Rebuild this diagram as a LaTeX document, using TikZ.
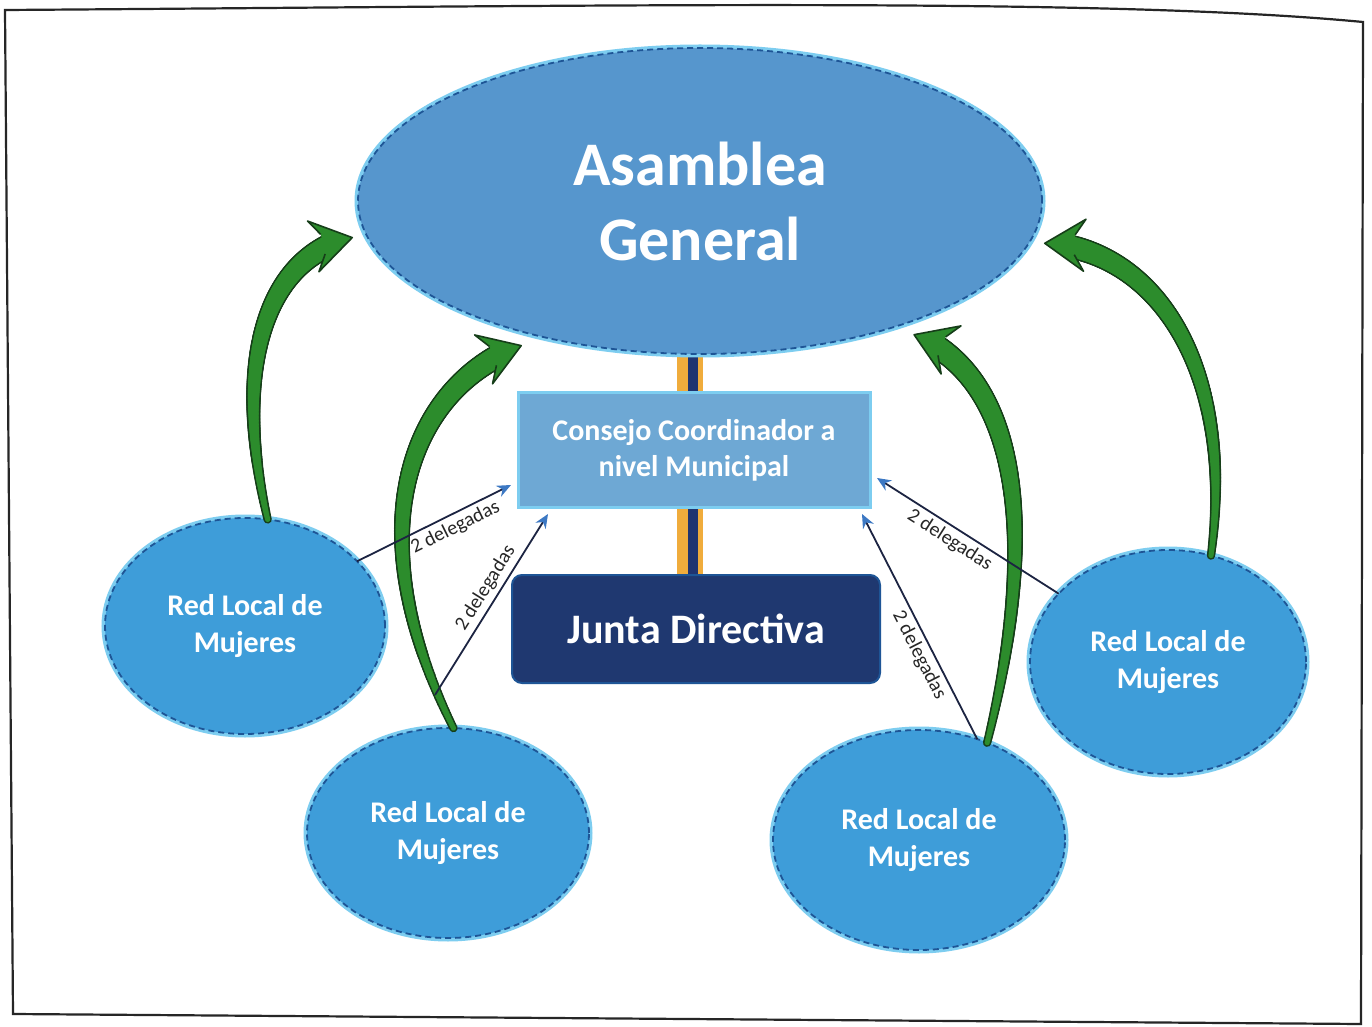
\documentclass[tikz,border=0pt]{standalone}
\usepackage{fontspec}
\setmainfont{Carlito}
\usetikzlibrary{shapes.geometric}
\usetikzlibrary{arrows.meta}
\usetikzlibrary{calc}
\usetikzlibrary{decorations.markings}
\usetikzlibrary{backgrounds}

\definecolor{asambleablue}{RGB}{86,150,205}
\definecolor{redblue}{RGB}{62,157,217}
\definecolor{consejoblue}{RGB}{110,168,212}
\definecolor{juntanavy}{RGB}{31,56,112}
\definecolor{rimcyan}{RGB}{125,205,240}
\definecolor{rimdark}{RGB}{30,85,150}
\definecolor{arrowgreen}{RGB}{44,140,44}
\definecolor{arrowdark}{RGB}{22,62,25}
\definecolor{delegline}{RGB}{28,36,66}
\definecolor{delegtip}{RGB}{60,120,195}
\definecolor{barorange}{RGB}{240,172,60}
\definecolor{barnavy}{RGB}{32,52,112}

\begin{document}
\begin{tikzpicture}[x=0.5pt,y=-0.5pt,
  oval/.style={ellipse, draw=rimdark, densely dashed, line width=0.9pt,
    preaction={draw=rimcyan, solid, line width=3.5pt},
    text=white, align=center, inner sep=0pt},
  bigoval/.style={oval, fill=asambleablue, minimum width=342pt, minimum height=153pt,
    outer sep=7pt, font=\fontsize{31}{37.5}\selectfont\bfseries},
  redoval/.style={oval, fill=redblue, outer sep=0pt, font=\fontsize{15}{18.5}\selectfont\bfseries},
  consejobox/.style={rectangle, fill=consejoblue, draw=rimcyan, line width=1.5pt,
    minimum width=176pt, minimum height=57pt, outer sep=3.5pt, text=white, align=center,
    font=\fontsize{15}{18}\selectfont\bfseries},
  juntabox/.style={rectangle, rounded corners=5pt, fill=juntanavy, draw=rimdark, line width=1pt,
    minimum width=184pt, minimum height=54pt, text=white, font=\fontsize{21}{25}\selectfont\bfseries},
  delegarrow/.style={draw=delegline, line width=0.9pt, -{Stealth[length=7pt,width=6pt,color=delegtip]}},
  delegtext/.style={sloped, font=\fontsize{10}{12}\selectfont, text=black!85, inner sep=2pt},
  greenarrow/.style={
    postaction={decorate, decoration={markings,
      mark=between positions 0 and -14pt step 0.7pt with {%
        \pgfmathsetmacro\shaftrad{1.3+4.2*\pgfkeysvalueof{/pgf/decoration/mark info/distance from start}/\pgfdecoratedpathlength}%
        \fill[arrowdark] (0pt,0pt) circle (\shaftrad pt+0.8pt);}}},
    postaction={decorate, decoration={markings,
      mark=between positions 0 and -14pt step 0.7pt with {%
        \pgfmathsetmacro\shaftrad{1.3+4.2*\pgfkeysvalueof{/pgf/decoration/mark info/distance from start}/\pgfdecoratedpathlength}%
        \fill[arrowgreen] (0pt,0pt) circle (\shaftrad pt);}}},
    postaction={decorate, decoration={markings,
      mark=at position -0.2pt with {%
        \fill[arrowgreen] (0pt,0pt) -- (-20pt,13pt) -- (-15pt,5pt) -- (-15pt,-5pt) -- (-20pt,-13pt) -- cycle;
        \draw[arrowdark, line width=0.8pt, line join=round] (-15pt,5pt) -- (-20pt,13pt) -- (0pt,0pt) -- (-20pt,-13pt) -- (-15pt,-5pt);}}}},
  bar/.style={line width=13pt, draw=barorange},
  barcore/.style={line width=5pt, draw=barnavy}
]
\useasboundingbox (0,0) rectangle (1372,1027);

% page frame
\draw[line width=1.1pt, black!85] (5,10) .. controls (600,6) and (1100,-3) .. (1363,22) -- (1361,1024) -- (13,1014) -- cycle;

% nodes
\node[bigoval] (asamblea) at (700,201) {Asamblea\\General};
\node[consejobox] (consejo) at (694,450) {Consejo Coordinador a\\nivel Municipal};
\node[juntabox] (junta) at (696,629) {Junta Directiva};

\node[redoval, minimum width=140pt, minimum height=108pt] (redA) at (245,626) {Red Local de\\Mujeres};
\node[redoval, minimum width=141pt, minimum height=105pt] (redB) at (448,833) {Red Local de\\Mujeres};
\node[redoval, minimum width=146pt, minimum height=110pt] (redC) at (919,840) {Red Local de\\Mujeres};
\node[redoval, minimum width=138pt, minimum height=112pt] (redD) at (1168,662) {Red Local de\\Mujeres};

% vertical links behind the boxes
\begin{scope}[on background layer]
\fill[white] (0,0) rectangle (1372,1027);
\draw[bar] ($(consejo.center)+(-4,0)$) -- ($(consejo.center |- asamblea.center)+(-4,0)$);
\draw[barcore] ($(consejo.center)+(-1,0)$) -- ($(consejo.center |- asamblea.center)+(-1,0)$);
\draw[bar] ($(consejo.center)+(-4,0)$) -- ($(consejo.center |- junta.center)+(-4,0)$);
\draw[barcore] ($(consejo.center)+(-1,0)$) -- ($(consejo.center |- junta.center)+(-1,0)$);
\end{scope}

% green arrows up to the assembly
\path[greenarrow] (redA.78) .. controls +(-35,-150) and +(-90,20) .. (asamblea.186);
\path[greenarrow] (redB.87) .. controls +(-100,-200) and +(-110,40) .. (asamblea.219);
\path[greenarrow] (redC.55) .. controls +(50,-200) and +(110,45) .. (asamblea.328);
\path[greenarrow] (redD.68) .. controls +(25,-190) and +(110,5) .. (asamblea.353);

% delegates
\coordinate (redBtop) at ($(redB.north)+(-13,-33)$);
\draw[delegarrow] (redA.30) -- node[delegtext, pos=0.6, below] {2 delegadas} ($(consejo.west)+(0,35)$);
\draw[delegarrow] (redBtop) -- node[delegtext, pos=0.55, above] {2 delegadas} ($(consejo.south west)+(37,0)$);
\draw[delegarrow] (redC.60) -- node[delegtext, pos=0.4, below] {2 delegadas} ($(consejo.south east)+(-15,0)$);
\draw[delegarrow] (redD.148) -- node[delegtext, pos=0.56, below] {2 delegadas} ($(consejo.east)+(0,28)$);

\end{tikzpicture}
\end{document}
